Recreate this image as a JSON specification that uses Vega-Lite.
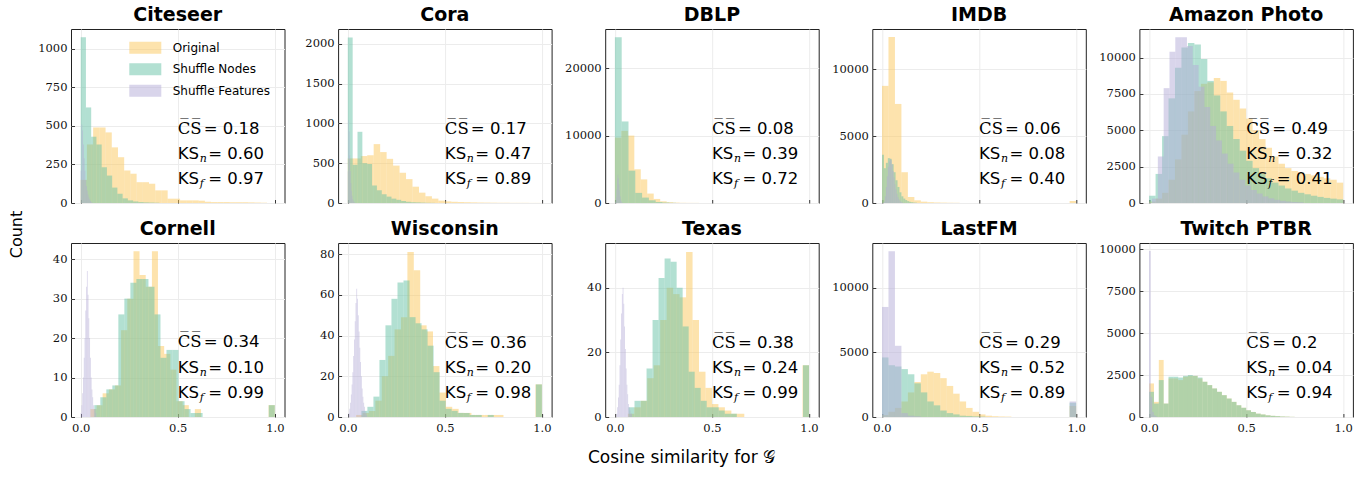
{
"$schema": "https://vega.github.io/schema/vega-lite/v6.json",
"padding": {"left": 7, "top": 5, "right": 5, "bottom": 5},
"background": "white",
"bounds": "flush",
"columns": 5,
"spacing": {"row": 40, "column": 53.1},
"datasets": {
"stats": [
{"dataset":"Citeseer","cs":"= 0.18","ksn":"= 0.60","ksf":"= 0.97"},
{"dataset":"Cora","cs":"= 0.17","ksn":"= 0.47","ksf":"= 0.89"},
{"dataset":"DBLP","cs":"= 0.08","ksn":"= 0.39","ksf":"= 0.72"},
{"dataset":"IMDB","cs":"= 0.06","ksn":"= 0.08","ksf":"= 0.40"},
{"dataset":"Amazon Photo","cs":"= 0.49","ksn":"= 0.32","ksf":"= 0.41"},
{"dataset":"Cornell","cs":"= 0.34","ksn":"= 0.10","ksf":"= 0.99"},
{"dataset":"Wisconsin","cs":"= 0.36","ksn":"= 0.20","ksf":"= 0.98"},
{"dataset":"Texas","cs":"= 0.38","ksn":"= 0.24","ksf":"= 0.99"},
{"dataset":"LastFM","cs":"= 0.29","ksn":"= 0.52","ksf":"= 0.89"},
{"dataset":"Twitch PTBR","cs":"= 0.2","ksn":"= 0.04","ksf":"= 0.94"}
],
"citeseer": [
{"series":"Original","x0":0,"x1":0.032,"count":150},
{"series":"Original","x0":0.032,"x1":0.064,"count":380},
{"series":"Original","x0":0.064,"x1":0.096,"count":490},
{"series":"Original","x0":0.096,"x1":0.128,"count":490},
{"series":"Original","x0":0.128,"x1":0.16,"count":458},
{"series":"Original","x0":0.16,"x1":0.192,"count":361},
{"series":"Original","x0":0.192,"x1":0.224,"count":297},
{"series":"Original","x0":0.224,"x1":0.256,"count":211},
{"series":"Original","x0":0.256,"x1":0.288,"count":190},
{"series":"Original","x0":0.288,"x1":0.32,"count":135},
{"series":"Original","x0":0.32,"x1":0.352,"count":135},
{"series":"Original","x0":0.352,"x1":0.384,"count":125},
{"series":"Original","x0":0.384,"x1":0.416,"count":82},
{"series":"Original","x0":0.416,"x1":0.448,"count":82},
{"series":"Original","x0":0.448,"x1":0.48,"count":28},
{"series":"Original","x0":0.48,"x1":0.512,"count":28},
{"series":"Original","x0":0.512,"x1":0.544,"count":17},
{"series":"Original","x0":0.544,"x1":0.576,"count":17},
{"series":"Original","x0":0.576,"x1":0.608,"count":17},
{"series":"Original","x0":0.608,"x1":0.64,"count":15},
{"series":"Original","x0":0.64,"x1":0.672,"count":8},
{"series":"Original","x0":0.672,"x1":0.704,"count":6},
{"series":"Original","x0":0.704,"x1":0.736,"count":6},
{"series":"Original","x0":0.736,"x1":0.768,"count":6},
{"series":"Original","x0":0.768,"x1":0.8,"count":5},
{"series":"Original","x0":0.8,"x1":0.832,"count":5},
{"series":"Original","x0":0.832,"x1":0.864,"count":5},
{"series":"Original","x0":0.864,"x1":0.896,"count":4},
{"series":"Original","x0":0.896,"x1":0.928,"count":3},
{"series":"Original","x0":0.928,"x1":0.96,"count":2},
{"series":"Shuffle Nodes","x0":0,"x1":0.027,"count":1075},
{"series":"Shuffle Nodes","x0":0.027,"x1":0.054,"count":620},
{"series":"Shuffle Nodes","x0":0.054,"x1":0.081,"count":430},
{"series":"Shuffle Nodes","x0":0.081,"x1":0.108,"count":380},
{"series":"Shuffle Nodes","x0":0.108,"x1":0.135,"count":232},
{"series":"Shuffle Nodes","x0":0.135,"x1":0.162,"count":178},
{"series":"Shuffle Nodes","x0":0.162,"x1":0.189,"count":100},
{"series":"Shuffle Nodes","x0":0.189,"x1":0.216,"count":60},
{"series":"Shuffle Nodes","x0":0.216,"x1":0.243,"count":30},
{"series":"Shuffle Nodes","x0":0.243,"x1":0.27,"count":17},
{"series":"Shuffle Nodes","x0":0.27,"x1":0.297,"count":10},
{"series":"Shuffle Nodes","x0":0.297,"x1":0.324,"count":6},
{"series":"Shuffle Nodes","x0":0.324,"x1":0.351,"count":4},
{"series":"Shuffle Nodes","x0":0.351,"x1":0.378,"count":3},
{"series":"Shuffle Nodes","x0":0.378,"x1":0.405,"count":2},
{"series":"Shuffle Features","x0":0,"x1":0.004,"count":210},
{"series":"Shuffle Features","x0":0.004,"x1":0.008,"count":510},
{"series":"Shuffle Features","x0":0.008,"x1":0.012,"count":470},
{"series":"Shuffle Features","x0":0.012,"x1":0.016,"count":380},
{"series":"Shuffle Features","x0":0.016,"x1":0.02,"count":290},
{"series":"Shuffle Features","x0":0.02,"x1":0.024,"count":210},
{"series":"Shuffle Features","x0":0.024,"x1":0.028,"count":150},
{"series":"Shuffle Features","x0":0.028,"x1":0.032,"count":110},
{"series":"Shuffle Features","x0":0.032,"x1":0.036,"count":80},
{"series":"Shuffle Features","x0":0.036,"x1":0.04,"count":55},
{"series":"Shuffle Features","x0":0.04,"x1":0.044,"count":38},
{"series":"Shuffle Features","x0":0.044,"x1":0.048,"count":25},
{"series":"Shuffle Features","x0":0.048,"x1":0.052,"count":15},
{"series":"Shuffle Features","x0":0.052,"x1":0.056,"count":8},
{"series":"Shuffle Features","x0":0.056,"x1":0.06,"count":4}
],
"cora": [
{"series":"Original","x0":0,"x1":0.0333,"count":560},
{"series":"Original","x0":0.0333,"x1":0.0667,"count":560},
{"series":"Original","x0":0.0667,"x1":0.1,"count":590},
{"series":"Original","x0":0.1,"x1":0.1333,"count":600},
{"series":"Original","x0":0.1333,"x1":0.1667,"count":740},
{"series":"Original","x0":0.1667,"x1":0.2,"count":640},
{"series":"Original","x0":0.2,"x1":0.2333,"count":555},
{"series":"Original","x0":0.2333,"x1":0.2667,"count":470},
{"series":"Original","x0":0.2667,"x1":0.3,"count":380},
{"series":"Original","x0":0.3,"x1":0.3333,"count":300},
{"series":"Original","x0":0.3333,"x1":0.3667,"count":205},
{"series":"Original","x0":0.3667,"x1":0.4,"count":130},
{"series":"Original","x0":0.4,"x1":0.4333,"count":85},
{"series":"Original","x0":0.4333,"x1":0.4667,"count":55},
{"series":"Original","x0":0.4667,"x1":0.5,"count":30},
{"series":"Original","x0":0.5,"x1":0.5333,"count":20},
{"series":"Original","x0":0.5333,"x1":0.5667,"count":15},
{"series":"Original","x0":0.5667,"x1":0.6,"count":12},
{"series":"Original","x0":0.6,"x1":0.6333,"count":10},
{"series":"Original","x0":0.6333,"x1":0.6667,"count":8},
{"series":"Original","x0":0.6667,"x1":0.7,"count":6},
{"series":"Original","x0":0.7,"x1":0.7333,"count":5},
{"series":"Original","x0":0.7333,"x1":0.7667,"count":4},
{"series":"Original","x0":0.7667,"x1":0.8,"count":3},
{"series":"Original","x0":0.8,"x1":0.8333,"count":3},
{"series":"Original","x0":0.8333,"x1":0.8667,"count":2},
{"series":"Original","x0":0.8667,"x1":0.9,"count":2},
{"series":"Original","x0":0.9,"x1":0.9333,"count":2},
{"series":"Original","x0":0.9333,"x1":0.9667,"count":1},
{"series":"Original","x0":0.9667,"x1":1,"count":1},
{"series":"Shuffle Nodes","x0":0,"x1":0.025,"count":2080},
{"series":"Shuffle Nodes","x0":0.025,"x1":0.05,"count":480},
{"series":"Shuffle Nodes","x0":0.05,"x1":0.075,"count":895},
{"series":"Shuffle Nodes","x0":0.075,"x1":0.1,"count":500},
{"series":"Shuffle Nodes","x0":0.1,"x1":0.125,"count":490},
{"series":"Shuffle Nodes","x0":0.125,"x1":0.15,"count":220},
{"series":"Shuffle Nodes","x0":0.15,"x1":0.175,"count":160},
{"series":"Shuffle Nodes","x0":0.175,"x1":0.2,"count":110},
{"series":"Shuffle Nodes","x0":0.2,"x1":0.225,"count":80},
{"series":"Shuffle Nodes","x0":0.225,"x1":0.25,"count":55},
{"series":"Shuffle Nodes","x0":0.25,"x1":0.275,"count":40},
{"series":"Shuffle Nodes","x0":0.275,"x1":0.3,"count":25},
{"series":"Shuffle Nodes","x0":0.3,"x1":0.325,"count":15},
{"series":"Shuffle Nodes","x0":0.325,"x1":0.35,"count":10},
{"series":"Shuffle Nodes","x0":0.35,"x1":0.375,"count":8},
{"series":"Shuffle Nodes","x0":0.375,"x1":0.4,"count":5},
{"series":"Shuffle Nodes","x0":0.4,"x1":0.425,"count":3},
{"series":"Shuffle Nodes","x0":0.425,"x1":0.45,"count":2},
{"series":"Shuffle Features","x0":0,"x1":0.003,"count":400},
{"series":"Shuffle Features","x0":0.003,"x1":0.006,"count":1040},
{"series":"Shuffle Features","x0":0.006,"x1":0.009,"count":900},
{"series":"Shuffle Features","x0":0.009,"x1":0.012,"count":600},
{"series":"Shuffle Features","x0":0.012,"x1":0.015,"count":400},
{"series":"Shuffle Features","x0":0.015,"x1":0.018,"count":250},
{"series":"Shuffle Features","x0":0.018,"x1":0.021,"count":150},
{"series":"Shuffle Features","x0":0.021,"x1":0.024,"count":90},
{"series":"Shuffle Features","x0":0.024,"x1":0.027,"count":50},
{"series":"Shuffle Features","x0":0.027,"x1":0.03,"count":30},
{"series":"Shuffle Features","x0":0.03,"x1":0.033,"count":15},
{"series":"Shuffle Features","x0":0.033,"x1":0.036,"count":8}
],
"dblp": [
{"series":"Original","x0":0,"x1":0.0333,"count":9700},
{"series":"Original","x0":0.0333,"x1":0.0667,"count":10700},
{"series":"Original","x0":0.0667,"x1":0.1,"count":10000},
{"series":"Original","x0":0.1,"x1":0.1333,"count":5000},
{"series":"Original","x0":0.1333,"x1":0.1667,"count":3500},
{"series":"Original","x0":0.1667,"x1":0.2,"count":1400},
{"series":"Original","x0":0.2,"x1":0.2333,"count":600},
{"series":"Original","x0":0.2333,"x1":0.2667,"count":250},
{"series":"Original","x0":0.2667,"x1":0.3,"count":120},
{"series":"Original","x0":0.3,"x1":0.3333,"count":60},
{"series":"Original","x0":0.3333,"x1":0.3667,"count":30},
{"series":"Original","x0":0.3667,"x1":0.4,"count":20},
{"series":"Original","x0":0.4,"x1":0.4333,"count":15},
{"series":"Shuffle Nodes","x0":0,"x1":0.035,"count":24600},
{"series":"Shuffle Nodes","x0":0.035,"x1":0.07,"count":12100},
{"series":"Shuffle Nodes","x0":0.07,"x1":0.105,"count":4800},
{"series":"Shuffle Nodes","x0":0.105,"x1":0.14,"count":1500},
{"series":"Shuffle Nodes","x0":0.14,"x1":0.175,"count":800},
{"series":"Shuffle Nodes","x0":0.175,"x1":0.21,"count":400},
{"series":"Shuffle Nodes","x0":0.21,"x1":0.245,"count":150},
{"series":"Shuffle Nodes","x0":0.245,"x1":0.28,"count":60},
{"series":"Shuffle Nodes","x0":0.28,"x1":0.315,"count":30},
{"series":"Shuffle Features","x0":0.002,"x1":0.005,"count":200},
{"series":"Shuffle Features","x0":0.005,"x1":0.008,"count":800},
{"series":"Shuffle Features","x0":0.008,"x1":0.011,"count":2000},
{"series":"Shuffle Features","x0":0.011,"x1":0.014,"count":3500},
{"series":"Shuffle Features","x0":0.014,"x1":0.017,"count":4200},
{"series":"Shuffle Features","x0":0.017,"x1":0.02,"count":3700},
{"series":"Shuffle Features","x0":0.02,"x1":0.023,"count":2800},
{"series":"Shuffle Features","x0":0.023,"x1":0.026,"count":1800},
{"series":"Shuffle Features","x0":0.026,"x1":0.029,"count":1000},
{"series":"Shuffle Features","x0":0.029,"x1":0.032,"count":500},
{"series":"Shuffle Features","x0":0.032,"x1":0.035,"count":250},
{"series":"Shuffle Features","x0":0.035,"x1":0.038,"count":100}
],
"imdb": [
{"series":"Original","x0":0,"x1":0.0333,"count":8750},
{"series":"Original","x0":0.0333,"x1":0.0667,"count":12400},
{"series":"Original","x0":0.0667,"x1":0.1,"count":7400},
{"series":"Original","x0":0.1,"x1":0.1333,"count":2300},
{"series":"Original","x0":0.1333,"x1":0.1667,"count":450},
{"series":"Original","x0":0.1667,"x1":0.2,"count":200},
{"series":"Original","x0":0.2,"x1":0.2333,"count":100},
{"series":"Original","x0":0.2333,"x1":0.2667,"count":60},
{"series":"Original","x0":0.2667,"x1":0.3,"count":40},
{"series":"Original","x0":0.3,"x1":0.3333,"count":30},
{"series":"Original","x0":0.3333,"x1":0.3667,"count":20},
{"series":"Original","x0":0.3667,"x1":0.4,"count":15},
{"series":"Original","x0":0.9667,"x1":1,"count":150},
{"series":"Shuffle Nodes","x0":0,"x1":0.01,"count":3600},
{"series":"Shuffle Nodes","x0":0.01,"x1":0.02,"count":2600},
{"series":"Shuffle Nodes","x0":0.02,"x1":0.03,"count":3000},
{"series":"Shuffle Nodes","x0":0.03,"x1":0.04,"count":3350},
{"series":"Shuffle Nodes","x0":0.04,"x1":0.05,"count":3300},
{"series":"Shuffle Nodes","x0":0.05,"x1":0.06,"count":2900},
{"series":"Shuffle Nodes","x0":0.06,"x1":0.07,"count":2300},
{"series":"Shuffle Nodes","x0":0.07,"x1":0.08,"count":1700},
{"series":"Shuffle Nodes","x0":0.08,"x1":0.09,"count":1200},
{"series":"Shuffle Nodes","x0":0.09,"x1":0.1,"count":800},
{"series":"Shuffle Nodes","x0":0.1,"x1":0.11,"count":500},
{"series":"Shuffle Nodes","x0":0.11,"x1":0.12,"count":330},
{"series":"Shuffle Nodes","x0":0.12,"x1":0.13,"count":220},
{"series":"Shuffle Nodes","x0":0.13,"x1":0.14,"count":140},
{"series":"Shuffle Nodes","x0":0.14,"x1":0.15,"count":90},
{"series":"Shuffle Nodes","x0":0.15,"x1":0.16,"count":60},
{"series":"Shuffle Nodes","x0":0.16,"x1":0.17,"count":40},
{"series":"Shuffle Nodes","x0":0.17,"x1":0.18,"count":25},
{"series":"Shuffle Features","x0":0.01,"x1":0.015,"count":100},
{"series":"Shuffle Features","x0":0.015,"x1":0.02,"count":500},
{"series":"Shuffle Features","x0":0.02,"x1":0.025,"count":1200},
{"series":"Shuffle Features","x0":0.025,"x1":0.03,"count":2000},
{"series":"Shuffle Features","x0":0.03,"x1":0.035,"count":2700},
{"series":"Shuffle Features","x0":0.035,"x1":0.04,"count":3100},
{"series":"Shuffle Features","x0":0.04,"x1":0.045,"count":3300},
{"series":"Shuffle Features","x0":0.045,"x1":0.05,"count":3200},
{"series":"Shuffle Features","x0":0.05,"x1":0.055,"count":2900},
{"series":"Shuffle Features","x0":0.055,"x1":0.06,"count":2400},
{"series":"Shuffle Features","x0":0.06,"x1":0.065,"count":1900},
{"series":"Shuffle Features","x0":0.065,"x1":0.07,"count":1400},
{"series":"Shuffle Features","x0":0.07,"x1":0.075,"count":1000},
{"series":"Shuffle Features","x0":0.075,"x1":0.08,"count":700},
{"series":"Shuffle Features","x0":0.08,"x1":0.085,"count":450},
{"series":"Shuffle Features","x0":0.085,"x1":0.09,"count":280},
{"series":"Shuffle Features","x0":0.09,"x1":0.095,"count":170},
{"series":"Shuffle Features","x0":0.095,"x1":0.1,"count":100},
{"series":"Shuffle Features","x0":0.1,"x1":0.105,"count":50},
{"series":"Shuffle Features","x0":0.105,"x1":0.11,"count":25}
],
"amazon": [
{"series":"Original","x0":0,"x1":0.0333,"count":100},
{"series":"Original","x0":0.0333,"x1":0.0667,"count":300},
{"series":"Original","x0":0.0667,"x1":0.1,"count":700},
{"series":"Original","x0":0.1,"x1":0.1333,"count":1600},
{"series":"Original","x0":0.1333,"x1":0.1667,"count":3000},
{"series":"Original","x0":0.1667,"x1":0.2,"count":4700},
{"series":"Original","x0":0.2,"x1":0.2333,"count":6300},
{"series":"Original","x0":0.2333,"x1":0.2667,"count":7700},
{"series":"Original","x0":0.2667,"x1":0.3,"count":8200},
{"series":"Original","x0":0.3,"x1":0.3333,"count":8300},
{"series":"Original","x0":0.3333,"x1":0.3667,"count":8600},
{"series":"Original","x0":0.3667,"x1":0.4,"count":8400},
{"series":"Original","x0":0.4,"x1":0.4333,"count":7600},
{"series":"Original","x0":0.4333,"x1":0.4667,"count":7100},
{"series":"Original","x0":0.4667,"x1":0.5,"count":6500},
{"series":"Original","x0":0.5,"x1":0.5333,"count":5800},
{"series":"Original","x0":0.5333,"x1":0.5667,"count":5000},
{"series":"Original","x0":0.5667,"x1":0.6,"count":4400},
{"series":"Original","x0":0.6,"x1":0.6333,"count":3800},
{"series":"Original","x0":0.6333,"x1":0.6667,"count":3200},
{"series":"Original","x0":0.6667,"x1":0.7,"count":2700},
{"series":"Original","x0":0.7,"x1":0.7333,"count":2400},
{"series":"Original","x0":0.7333,"x1":0.7667,"count":2200},
{"series":"Original","x0":0.7667,"x1":0.8,"count":2100},
{"series":"Original","x0":0.8,"x1":0.8333,"count":2000},
{"series":"Original","x0":0.8333,"x1":0.8667,"count":1900},
{"series":"Original","x0":0.8667,"x1":0.9,"count":1800},
{"series":"Original","x0":0.9,"x1":0.9333,"count":1700},
{"series":"Original","x0":0.9333,"x1":0.9667,"count":1600},
{"series":"Original","x0":0.9667,"x1":1,"count":1400},
{"series":"Shuffle Nodes","x0":0,"x1":0.0333,"count":500},
{"series":"Shuffle Nodes","x0":0.0333,"x1":0.0667,"count":2000},
{"series":"Shuffle Nodes","x0":0.0667,"x1":0.1,"count":4600},
{"series":"Shuffle Nodes","x0":0.1,"x1":0.1333,"count":7200},
{"series":"Shuffle Nodes","x0":0.1333,"x1":0.1667,"count":9300},
{"series":"Shuffle Nodes","x0":0.1667,"x1":0.2,"count":10700},
{"series":"Shuffle Nodes","x0":0.2,"x1":0.2333,"count":11000},
{"series":"Shuffle Nodes","x0":0.2333,"x1":0.2667,"count":10900},
{"series":"Shuffle Nodes","x0":0.2667,"x1":0.3,"count":9900},
{"series":"Shuffle Nodes","x0":0.3,"x1":0.3333,"count":8400},
{"series":"Shuffle Nodes","x0":0.3333,"x1":0.3667,"count":7400},
{"series":"Shuffle Nodes","x0":0.3667,"x1":0.4,"count":6300},
{"series":"Shuffle Nodes","x0":0.4,"x1":0.4333,"count":5300},
{"series":"Shuffle Nodes","x0":0.4333,"x1":0.4667,"count":4400},
{"series":"Shuffle Nodes","x0":0.4667,"x1":0.5,"count":3600},
{"series":"Shuffle Nodes","x0":0.5,"x1":0.5333,"count":2900},
{"series":"Shuffle Nodes","x0":0.5333,"x1":0.5667,"count":2400},
{"series":"Shuffle Nodes","x0":0.5667,"x1":0.6,"count":2000},
{"series":"Shuffle Nodes","x0":0.6,"x1":0.6333,"count":1700},
{"series":"Shuffle Nodes","x0":0.6333,"x1":0.6667,"count":1400},
{"series":"Shuffle Nodes","x0":0.6667,"x1":0.7,"count":1200},
{"series":"Shuffle Nodes","x0":0.7,"x1":0.7333,"count":1000},
{"series":"Shuffle Nodes","x0":0.7333,"x1":0.7667,"count":850},
{"series":"Shuffle Nodes","x0":0.7667,"x1":0.8,"count":700},
{"series":"Shuffle Nodes","x0":0.8,"x1":0.8333,"count":600},
{"series":"Shuffle Nodes","x0":0.8333,"x1":0.8667,"count":500},
{"series":"Shuffle Nodes","x0":0.8667,"x1":0.9,"count":420},
{"series":"Shuffle Nodes","x0":0.9,"x1":0.9333,"count":350},
{"series":"Shuffle Nodes","x0":0.9333,"x1":0.9667,"count":300},
{"series":"Shuffle Nodes","x0":0.9667,"x1":1,"count":250},
{"series":"Shuffle Features","x0":0.015,"x1":0.045,"count":300},
{"series":"Shuffle Features","x0":0.045,"x1":0.075,"count":3200},
{"series":"Shuffle Features","x0":0.075,"x1":0.105,"count":7900},
{"series":"Shuffle Features","x0":0.105,"x1":0.135,"count":10400},
{"series":"Shuffle Features","x0":0.135,"x1":0.165,"count":11400},
{"series":"Shuffle Features","x0":0.165,"x1":0.195,"count":11400},
{"series":"Shuffle Features","x0":0.195,"x1":0.225,"count":10800},
{"series":"Shuffle Features","x0":0.225,"x1":0.255,"count":9500},
{"series":"Shuffle Features","x0":0.255,"x1":0.285,"count":8000},
{"series":"Shuffle Features","x0":0.285,"x1":0.315,"count":6600},
{"series":"Shuffle Features","x0":0.315,"x1":0.345,"count":5300},
{"series":"Shuffle Features","x0":0.345,"x1":0.375,"count":4300},
{"series":"Shuffle Features","x0":0.375,"x1":0.405,"count":3400},
{"series":"Shuffle Features","x0":0.405,"x1":0.435,"count":2700},
{"series":"Shuffle Features","x0":0.435,"x1":0.465,"count":2100},
{"series":"Shuffle Features","x0":0.465,"x1":0.495,"count":1600},
{"series":"Shuffle Features","x0":0.495,"x1":0.525,"count":1200},
{"series":"Shuffle Features","x0":0.525,"x1":0.555,"count":900},
{"series":"Shuffle Features","x0":0.555,"x1":0.585,"count":650},
{"series":"Shuffle Features","x0":0.585,"x1":0.615,"count":450},
{"series":"Shuffle Features","x0":0.615,"x1":0.645,"count":320},
{"series":"Shuffle Features","x0":0.645,"x1":0.675,"count":220},
{"series":"Shuffle Features","x0":0.675,"x1":0.705,"count":150},
{"series":"Shuffle Features","x0":0.705,"x1":0.735,"count":100},
{"series":"Shuffle Features","x0":0.735,"x1":0.765,"count":70},
{"series":"Shuffle Features","x0":0.765,"x1":0.795,"count":50}
],
"cornell": [
{"series":"Original","x0":0.05,"x1":0.082,"count":2},
{"series":"Original","x0":0.082,"x1":0.113,"count":3},
{"series":"Original","x0":0.113,"x1":0.145,"count":6},
{"series":"Original","x0":0.145,"x1":0.177,"count":7},
{"series":"Original","x0":0.177,"x1":0.208,"count":8},
{"series":"Original","x0":0.208,"x1":0.24,"count":22},
{"series":"Original","x0":0.24,"x1":0.272,"count":30},
{"series":"Original","x0":0.272,"x1":0.303,"count":42},
{"series":"Original","x0":0.303,"x1":0.335,"count":36},
{"series":"Original","x0":0.335,"x1":0.367,"count":33},
{"series":"Original","x0":0.367,"x1":0.398,"count":42},
{"series":"Original","x0":0.398,"x1":0.43,"count":18},
{"series":"Original","x0":0.43,"x1":0.462,"count":16},
{"series":"Original","x0":0.462,"x1":0.493,"count":12},
{"series":"Original","x0":0.493,"x1":0.525,"count":4},
{"series":"Original","x0":0.525,"x1":0.557,"count":3},
{"series":"Original","x0":0.588,"x1":0.62,"count":2},
{"series":"Original","x0":0.968,"x1":1,"count":3},
{"series":"Shuffle Nodes","x0":0.07,"x1":0.101,"count":3},
{"series":"Shuffle Nodes","x0":0.101,"x1":0.132,"count":5},
{"series":"Shuffle Nodes","x0":0.132,"x1":0.163,"count":7},
{"series":"Shuffle Nodes","x0":0.163,"x1":0.194,"count":8},
{"series":"Shuffle Nodes","x0":0.194,"x1":0.225,"count":26},
{"series":"Shuffle Nodes","x0":0.225,"x1":0.256,"count":30},
{"series":"Shuffle Nodes","x0":0.256,"x1":0.287,"count":34},
{"series":"Shuffle Nodes","x0":0.287,"x1":0.318,"count":35},
{"series":"Shuffle Nodes","x0":0.318,"x1":0.349,"count":35},
{"series":"Shuffle Nodes","x0":0.349,"x1":0.38,"count":33},
{"series":"Shuffle Nodes","x0":0.38,"x1":0.411,"count":26},
{"series":"Shuffle Nodes","x0":0.411,"x1":0.442,"count":15},
{"series":"Shuffle Nodes","x0":0.442,"x1":0.473,"count":17},
{"series":"Shuffle Nodes","x0":0.473,"x1":0.504,"count":17},
{"series":"Shuffle Nodes","x0":0.504,"x1":0.535,"count":4},
{"series":"Shuffle Nodes","x0":0.535,"x1":0.566,"count":2},
{"series":"Shuffle Nodes","x0":0.566,"x1":0.597,"count":1},
{"series":"Shuffle Nodes","x0":0.597,"x1":0.628,"count":1},
{"series":"Shuffle Nodes","x0":0.969,"x1":1,"count":3},
{"series":"Shuffle Features","x0":0,"x1":0.004,"count":1},
{"series":"Shuffle Features","x0":0.004,"x1":0.008,"count":3},
{"series":"Shuffle Features","x0":0.008,"x1":0.012,"count":6},
{"series":"Shuffle Features","x0":0.012,"x1":0.016,"count":10},
{"series":"Shuffle Features","x0":0.016,"x1":0.02,"count":15},
{"series":"Shuffle Features","x0":0.02,"x1":0.024,"count":20},
{"series":"Shuffle Features","x0":0.024,"x1":0.028,"count":27},
{"series":"Shuffle Features","x0":0.028,"x1":0.032,"count":33},
{"series":"Shuffle Features","x0":0.032,"x1":0.036,"count":37},
{"series":"Shuffle Features","x0":0.036,"x1":0.04,"count":31},
{"series":"Shuffle Features","x0":0.04,"x1":0.044,"count":25},
{"series":"Shuffle Features","x0":0.044,"x1":0.048,"count":20},
{"series":"Shuffle Features","x0":0.048,"x1":0.052,"count":15},
{"series":"Shuffle Features","x0":0.052,"x1":0.056,"count":10},
{"series":"Shuffle Features","x0":0.056,"x1":0.06,"count":7},
{"series":"Shuffle Features","x0":0.06,"x1":0.064,"count":5},
{"series":"Shuffle Features","x0":0.064,"x1":0.068,"count":3},
{"series":"Shuffle Features","x0":0.068,"x1":0.072,"count":2},
{"series":"Shuffle Features","x0":0.072,"x1":0.076,"count":2},
{"series":"Shuffle Features","x0":0.076,"x1":0.08,"count":1}
],
"wisconsin": [
{"series":"Original","x0":0.043,"x1":0.076,"count":1},
{"series":"Original","x0":0.076,"x1":0.109,"count":2},
{"series":"Original","x0":0.109,"x1":0.142,"count":3},
{"series":"Original","x0":0.142,"x1":0.175,"count":8},
{"series":"Original","x0":0.175,"x1":0.208,"count":20},
{"series":"Original","x0":0.208,"x1":0.241,"count":30},
{"series":"Original","x0":0.241,"x1":0.274,"count":43},
{"series":"Original","x0":0.274,"x1":0.307,"count":49},
{"series":"Original","x0":0.307,"x1":0.34,"count":81},
{"series":"Original","x0":0.34,"x1":0.373,"count":72},
{"series":"Original","x0":0.373,"x1":0.406,"count":45},
{"series":"Original","x0":0.406,"x1":0.439,"count":42},
{"series":"Original","x0":0.439,"x1":0.472,"count":25},
{"series":"Original","x0":0.472,"x1":0.505,"count":12},
{"series":"Original","x0":0.505,"x1":0.538,"count":5},
{"series":"Original","x0":0.538,"x1":0.571,"count":4},
{"series":"Original","x0":0.571,"x1":0.604,"count":2},
{"series":"Original","x0":0.604,"x1":0.637,"count":2},
{"series":"Original","x0":0.637,"x1":0.67,"count":1},
{"series":"Original","x0":0.67,"x1":0.703,"count":1},
{"series":"Original","x0":0.703,"x1":0.736,"count":1},
{"series":"Original","x0":0.736,"x1":0.769,"count":1},
{"series":"Original","x0":0.769,"x1":0.802,"count":1},
{"series":"Original","x0":0.967,"x1":1,"count":16},
{"series":"Shuffle Nodes","x0":0.07,"x1":0.101,"count":3},
{"series":"Shuffle Nodes","x0":0.101,"x1":0.132,"count":5},
{"series":"Shuffle Nodes","x0":0.132,"x1":0.163,"count":10},
{"series":"Shuffle Nodes","x0":0.163,"x1":0.194,"count":28},
{"series":"Shuffle Nodes","x0":0.194,"x1":0.225,"count":45},
{"series":"Shuffle Nodes","x0":0.225,"x1":0.256,"count":58},
{"series":"Shuffle Nodes","x0":0.256,"x1":0.287,"count":66},
{"series":"Shuffle Nodes","x0":0.287,"x1":0.318,"count":67},
{"series":"Shuffle Nodes","x0":0.318,"x1":0.349,"count":49},
{"series":"Shuffle Nodes","x0":0.349,"x1":0.38,"count":46},
{"series":"Shuffle Nodes","x0":0.38,"x1":0.411,"count":43},
{"series":"Shuffle Nodes","x0":0.411,"x1":0.442,"count":35},
{"series":"Shuffle Nodes","x0":0.442,"x1":0.473,"count":22},
{"series":"Shuffle Nodes","x0":0.473,"x1":0.504,"count":8},
{"series":"Shuffle Nodes","x0":0.504,"x1":0.535,"count":4},
{"series":"Shuffle Nodes","x0":0.535,"x1":0.566,"count":3},
{"series":"Shuffle Nodes","x0":0.566,"x1":0.597,"count":2},
{"series":"Shuffle Nodes","x0":0.597,"x1":0.628,"count":2},
{"series":"Shuffle Nodes","x0":0.628,"x1":0.659,"count":1},
{"series":"Shuffle Nodes","x0":0.659,"x1":0.69,"count":1},
{"series":"Shuffle Nodes","x0":0.721,"x1":0.752,"count":1},
{"series":"Shuffle Nodes","x0":0.969,"x1":1,"count":16},
{"series":"Shuffle Features","x0":0.004,"x1":0.008,"count":2},
{"series":"Shuffle Features","x0":0.008,"x1":0.012,"count":4},
{"series":"Shuffle Features","x0":0.012,"x1":0.016,"count":7},
{"series":"Shuffle Features","x0":0.016,"x1":0.02,"count":11},
{"series":"Shuffle Features","x0":0.02,"x1":0.024,"count":16},
{"series":"Shuffle Features","x0":0.024,"x1":0.028,"count":22},
{"series":"Shuffle Features","x0":0.028,"x1":0.032,"count":30},
{"series":"Shuffle Features","x0":0.032,"x1":0.036,"count":38},
{"series":"Shuffle Features","x0":0.036,"x1":0.04,"count":47},
{"series":"Shuffle Features","x0":0.04,"x1":0.044,"count":56},
{"series":"Shuffle Features","x0":0.044,"x1":0.048,"count":63},
{"series":"Shuffle Features","x0":0.048,"x1":0.052,"count":58},
{"series":"Shuffle Features","x0":0.052,"x1":0.056,"count":50},
{"series":"Shuffle Features","x0":0.056,"x1":0.06,"count":42},
{"series":"Shuffle Features","x0":0.06,"x1":0.064,"count":34},
{"series":"Shuffle Features","x0":0.064,"x1":0.068,"count":27},
{"series":"Shuffle Features","x0":0.068,"x1":0.072,"count":20},
{"series":"Shuffle Features","x0":0.072,"x1":0.076,"count":14},
{"series":"Shuffle Features","x0":0.076,"x1":0.08,"count":10},
{"series":"Shuffle Features","x0":0.08,"x1":0.084,"count":7},
{"series":"Shuffle Features","x0":0.084,"x1":0.088,"count":5},
{"series":"Shuffle Features","x0":0.088,"x1":0.092,"count":3},
{"series":"Shuffle Features","x0":0.092,"x1":0.096,"count":2},
{"series":"Shuffle Features","x0":0.096,"x1":0.1,"count":1}
],
"texas": [
{"series":"Original","x0":0.0667,"x1":0.1,"count":1},
{"series":"Original","x0":0.1,"x1":0.1333,"count":3},
{"series":"Original","x0":0.1333,"x1":0.1667,"count":5},
{"series":"Original","x0":0.1667,"x1":0.2,"count":12},
{"series":"Original","x0":0.2,"x1":0.2333,"count":16},
{"series":"Original","x0":0.2333,"x1":0.2667,"count":30},
{"series":"Original","x0":0.2667,"x1":0.3,"count":40},
{"series":"Original","x0":0.3,"x1":0.3333,"count":38},
{"series":"Original","x0":0.3333,"x1":0.3667,"count":37},
{"series":"Original","x0":0.3667,"x1":0.4,"count":51},
{"series":"Original","x0":0.4,"x1":0.4333,"count":30},
{"series":"Original","x0":0.4333,"x1":0.4667,"count":14},
{"series":"Original","x0":0.4667,"x1":0.5,"count":9},
{"series":"Original","x0":0.5,"x1":0.5333,"count":4},
{"series":"Original","x0":0.5333,"x1":0.5667,"count":3},
{"series":"Original","x0":0.5667,"x1":0.6,"count":2},
{"series":"Original","x0":0.6,"x1":0.6333,"count":1},
{"series":"Original","x0":0.6333,"x1":0.6667,"count":1},
{"series":"Original","x0":0.9667,"x1":1,"count":16},
{"series":"Shuffle Nodes","x0":0.07,"x1":0.101,"count":3},
{"series":"Shuffle Nodes","x0":0.101,"x1":0.132,"count":5},
{"series":"Shuffle Nodes","x0":0.132,"x1":0.163,"count":5},
{"series":"Shuffle Nodes","x0":0.163,"x1":0.194,"count":15},
{"series":"Shuffle Nodes","x0":0.194,"x1":0.225,"count":30},
{"series":"Shuffle Nodes","x0":0.225,"x1":0.256,"count":43},
{"series":"Shuffle Nodes","x0":0.256,"x1":0.287,"count":49},
{"series":"Shuffle Nodes","x0":0.287,"x1":0.318,"count":48},
{"series":"Shuffle Nodes","x0":0.318,"x1":0.349,"count":40},
{"series":"Shuffle Nodes","x0":0.349,"x1":0.38,"count":28},
{"series":"Shuffle Nodes","x0":0.38,"x1":0.411,"count":14},
{"series":"Shuffle Nodes","x0":0.411,"x1":0.442,"count":9},
{"series":"Shuffle Nodes","x0":0.442,"x1":0.473,"count":5},
{"series":"Shuffle Nodes","x0":0.473,"x1":0.504,"count":3},
{"series":"Shuffle Nodes","x0":0.504,"x1":0.535,"count":3},
{"series":"Shuffle Nodes","x0":0.535,"x1":0.566,"count":2},
{"series":"Shuffle Nodes","x0":0.566,"x1":0.597,"count":1},
{"series":"Shuffle Nodes","x0":0.597,"x1":0.628,"count":1},
{"series":"Shuffle Nodes","x0":0.969,"x1":1,"count":16},
{"series":"Shuffle Features","x0":0.008,"x1":0.012,"count":1},
{"series":"Shuffle Features","x0":0.012,"x1":0.016,"count":3},
{"series":"Shuffle Features","x0":0.016,"x1":0.02,"count":6},
{"series":"Shuffle Features","x0":0.02,"x1":0.024,"count":10},
{"series":"Shuffle Features","x0":0.024,"x1":0.028,"count":16},
{"series":"Shuffle Features","x0":0.028,"x1":0.032,"count":24},
{"series":"Shuffle Features","x0":0.032,"x1":0.036,"count":32},
{"series":"Shuffle Features","x0":0.036,"x1":0.04,"count":38},
{"series":"Shuffle Features","x0":0.04,"x1":0.044,"count":40},
{"series":"Shuffle Features","x0":0.044,"x1":0.048,"count":35},
{"series":"Shuffle Features","x0":0.048,"x1":0.052,"count":28},
{"series":"Shuffle Features","x0":0.052,"x1":0.056,"count":21},
{"series":"Shuffle Features","x0":0.056,"x1":0.06,"count":15},
{"series":"Shuffle Features","x0":0.06,"x1":0.064,"count":10},
{"series":"Shuffle Features","x0":0.064,"x1":0.068,"count":7},
{"series":"Shuffle Features","x0":0.068,"x1":0.072,"count":4},
{"series":"Shuffle Features","x0":0.072,"x1":0.076,"count":3},
{"series":"Shuffle Features","x0":0.076,"x1":0.08,"count":2},
{"series":"Shuffle Features","x0":0.08,"x1":0.084,"count":1},
{"series":"Shuffle Features","x0":0.084,"x1":0.088,"count":1}
],
"lastfm": [
{"series":"Original","x0":0,"x1":0.0333,"count":150},
{"series":"Original","x0":0.0333,"x1":0.0667,"count":400},
{"series":"Original","x0":0.0667,"x1":0.1,"count":700},
{"series":"Original","x0":0.1,"x1":0.1333,"count":1200},
{"series":"Original","x0":0.1333,"x1":0.1667,"count":1900},
{"series":"Original","x0":0.1667,"x1":0.2,"count":2700},
{"series":"Original","x0":0.2,"x1":0.2333,"count":3300},
{"series":"Original","x0":0.2333,"x1":0.2667,"count":3500},
{"series":"Original","x0":0.2667,"x1":0.3,"count":3400},
{"series":"Original","x0":0.3,"x1":0.3333,"count":3000},
{"series":"Original","x0":0.3333,"x1":0.3667,"count":2400},
{"series":"Original","x0":0.3667,"x1":0.4,"count":1800},
{"series":"Original","x0":0.4,"x1":0.4333,"count":1200},
{"series":"Original","x0":0.4333,"x1":0.4667,"count":700},
{"series":"Original","x0":0.4667,"x1":0.5,"count":400},
{"series":"Original","x0":0.5,"x1":0.5333,"count":200},
{"series":"Original","x0":0.5333,"x1":0.5667,"count":100},
{"series":"Original","x0":0.5667,"x1":0.6,"count":60},
{"series":"Original","x0":0.6,"x1":0.6333,"count":40},
{"series":"Original","x0":0.6333,"x1":0.6667,"count":30},
{"series":"Original","x0":0.9667,"x1":1,"count":850},
{"series":"Shuffle Nodes","x0":0,"x1":0.0333,"count":4600},
{"series":"Shuffle Nodes","x0":0.0333,"x1":0.0667,"count":4000},
{"series":"Shuffle Nodes","x0":0.0667,"x1":0.1,"count":3900},
{"series":"Shuffle Nodes","x0":0.1,"x1":0.1333,"count":3700},
{"series":"Shuffle Nodes","x0":0.1333,"x1":0.1667,"count":3300},
{"series":"Shuffle Nodes","x0":0.1667,"x1":0.2,"count":2600},
{"series":"Shuffle Nodes","x0":0.2,"x1":0.2333,"count":1900},
{"series":"Shuffle Nodes","x0":0.2333,"x1":0.2667,"count":1200},
{"series":"Shuffle Nodes","x0":0.2667,"x1":0.3,"count":900},
{"series":"Shuffle Nodes","x0":0.3,"x1":0.3333,"count":500},
{"series":"Shuffle Nodes","x0":0.3333,"x1":0.3667,"count":300},
{"series":"Shuffle Nodes","x0":0.3667,"x1":0.4,"count":200},
{"series":"Shuffle Nodes","x0":0.4,"x1":0.4333,"count":100},
{"series":"Shuffle Nodes","x0":0.4333,"x1":0.4667,"count":80},
{"series":"Shuffle Nodes","x0":0.4667,"x1":0.5,"count":50},
{"series":"Shuffle Nodes","x0":0.5,"x1":0.5333,"count":30},
{"series":"Shuffle Nodes","x0":0.9667,"x1":1,"count":1100},
{"series":"Shuffle Features","x0":0,"x1":0.0333,"count":8500},
{"series":"Shuffle Features","x0":0.0333,"x1":0.0667,"count":12800},
{"series":"Shuffle Features","x0":0.0667,"x1":0.1,"count":5500},
{"series":"Shuffle Features","x0":0.1,"x1":0.1333,"count":300},
{"series":"Shuffle Features","x0":0.1333,"x1":0.1667,"count":100},
{"series":"Shuffle Features","x0":0.1667,"x1":0.2,"count":50},
{"series":"Shuffle Features","x0":0.9667,"x1":1,"count":1200}
],
"twitch": [
{"series":"Original","x0":0,"x1":0.025,"count":2000},
{"series":"Original","x0":0.025,"x1":0.05,"count":900},
{"series":"Original","x0":0.05,"x1":0.075,"count":3400},
{"series":"Original","x0":0.075,"x1":0.1,"count":800},
{"series":"Original","x0":0.1,"x1":0.125,"count":2300},
{"series":"Original","x0":0.125,"x1":0.15,"count":2300},
{"series":"Original","x0":0.15,"x1":0.175,"count":2200},
{"series":"Original","x0":0.175,"x1":0.2,"count":2400},
{"series":"Original","x0":0.2,"x1":0.225,"count":2450},
{"series":"Original","x0":0.225,"x1":0.25,"count":2450},
{"series":"Original","x0":0.25,"x1":0.275,"count":2300},
{"series":"Original","x0":0.275,"x1":0.3,"count":2100},
{"series":"Original","x0":0.3,"x1":0.325,"count":1900},
{"series":"Original","x0":0.325,"x1":0.35,"count":1700},
{"series":"Original","x0":0.35,"x1":0.375,"count":1500},
{"series":"Original","x0":0.375,"x1":0.4,"count":1300},
{"series":"Original","x0":0.4,"x1":0.425,"count":1100},
{"series":"Original","x0":0.425,"x1":0.45,"count":900},
{"series":"Original","x0":0.45,"x1":0.475,"count":700},
{"series":"Original","x0":0.475,"x1":0.5,"count":550},
{"series":"Original","x0":0.5,"x1":0.525,"count":400},
{"series":"Original","x0":0.525,"x1":0.55,"count":300},
{"series":"Original","x0":0.55,"x1":0.575,"count":200},
{"series":"Original","x0":0.575,"x1":0.6,"count":150},
{"series":"Original","x0":0.6,"x1":0.625,"count":100},
{"series":"Original","x0":0.625,"x1":0.65,"count":70},
{"series":"Original","x0":0.65,"x1":0.675,"count":50},
{"series":"Original","x0":0.675,"x1":0.7,"count":30},
{"series":"Original","x0":0.7,"x1":0.725,"count":20},
{"series":"Original","x0":0.725,"x1":0.75,"count":10},
{"series":"Shuffle Nodes","x0":0,"x1":0.025,"count":1500},
{"series":"Shuffle Nodes","x0":0.025,"x1":0.05,"count":800},
{"series":"Shuffle Nodes","x0":0.05,"x1":0.075,"count":2200},
{"series":"Shuffle Nodes","x0":0.075,"x1":0.1,"count":800},
{"series":"Shuffle Nodes","x0":0.1,"x1":0.125,"count":2400},
{"series":"Shuffle Nodes","x0":0.125,"x1":0.15,"count":2400},
{"series":"Shuffle Nodes","x0":0.15,"x1":0.175,"count":2350},
{"series":"Shuffle Nodes","x0":0.175,"x1":0.2,"count":2450},
{"series":"Shuffle Nodes","x0":0.2,"x1":0.225,"count":2500},
{"series":"Shuffle Nodes","x0":0.225,"x1":0.25,"count":2450},
{"series":"Shuffle Nodes","x0":0.25,"x1":0.275,"count":2350},
{"series":"Shuffle Nodes","x0":0.275,"x1":0.3,"count":2100},
{"series":"Shuffle Nodes","x0":0.3,"x1":0.325,"count":1900},
{"series":"Shuffle Nodes","x0":0.325,"x1":0.35,"count":1700},
{"series":"Shuffle Nodes","x0":0.35,"x1":0.375,"count":1500},
{"series":"Shuffle Nodes","x0":0.375,"x1":0.4,"count":1300},
{"series":"Shuffle Nodes","x0":0.4,"x1":0.425,"count":1100},
{"series":"Shuffle Nodes","x0":0.425,"x1":0.45,"count":900},
{"series":"Shuffle Nodes","x0":0.45,"x1":0.475,"count":700},
{"series":"Shuffle Nodes","x0":0.475,"x1":0.5,"count":550},
{"series":"Shuffle Nodes","x0":0.5,"x1":0.525,"count":400},
{"series":"Shuffle Nodes","x0":0.525,"x1":0.55,"count":300},
{"series":"Shuffle Nodes","x0":0.55,"x1":0.575,"count":200},
{"series":"Shuffle Nodes","x0":0.575,"x1":0.6,"count":150},
{"series":"Shuffle Nodes","x0":0.6,"x1":0.625,"count":100},
{"series":"Shuffle Nodes","x0":0.625,"x1":0.65,"count":70},
{"series":"Shuffle Nodes","x0":0.65,"x1":0.675,"count":50},
{"series":"Shuffle Nodes","x0":0.675,"x1":0.7,"count":30},
{"series":"Shuffle Nodes","x0":0.7,"x1":0.725,"count":20},
{"series":"Shuffle Nodes","x0":0.725,"x1":0.75,"count":10},
{"series":"Shuffle Features","x0":0,"x1":0.008,"count":9900},
{"series":"Shuffle Features","x0":0.008,"x1":0.016,"count":1200},
{"series":"Shuffle Features","x0":0.016,"x1":0.024,"count":300},
{"series":"Shuffle Features","x0":0.024,"x1":0.032,"count":100},
{"series":"Shuffle Features","x0":0.032,"x1":0.04,"count":50}
]
},
"concat": [
{"title":"Citeseer","width":213.5,"height":174,"layer":[
 {"data":{"name":"citeseer"},"mark":"bar","encoding":{
  "x":{"field":"x0","type":"quantitative","scale":{"domain":[-0.05,1.05],"nice":false,"zero":false},"axis":{"values":[0,0.5,1],"labels":false,"title":null}},
  "x2":{"field":"x1"},
  "y":{"field":"count","type":"quantitative","stack":null,"scale":{"domain":[0,1129],"nice":false},"axis":{"values":[0,250,500,750,1000],"format":"d","title":"Count","titleX":-55,"titleY":205,"titleAngle":-90,"titleAlign":"center","titleBaseline":"middle","titleFontSize":16}},
  "y2":{"datum":0},
  "color":{"field":"series","type":"nominal","scale":{"domain":["Original","Shuffle Nodes","Shuffle Features"],"range":["#fbc75c","#66c2a5","#b3abd8"]},"legend":{"title":null,"orient":"none","legendX":66.3,"legendY":10.7}}}},
 {"data":{"name":"stats"},"transform":[{"filter":"datum.dataset === 'Citeseer'"}],"layer":[
  {"mark":{"type":"text","style":"cs","text":"C̅S̅"},"encoding":{"x":{"datum":0.5},"y":{"datum":483}}},
  {"mark":{"type":"text","style":"valcs"},"encoding":{"x":{"datum":0.5},"y":{"datum":483},"text":{"field":"cs"}}},
  {"mark":{"type":"text","style":"lbl","text":"KS"},"encoding":{"x":{"datum":0.5},"y":{"datum":316}}},
  {"mark":{"type":"text","style":"sub","text":"n"},"encoding":{"x":{"datum":0.5},"y":{"datum":316}}},
  {"mark":{"type":"text","style":"valks"},"encoding":{"x":{"datum":0.5},"y":{"datum":316},"text":{"field":"ksn"}}},
  {"mark":{"type":"text","style":"lbl","text":"KS"},"encoding":{"x":{"datum":0.5},"y":{"datum":155}}},
  {"mark":{"type":"text","style":"sub","text":"f"},"encoding":{"x":{"datum":0.5},"y":{"datum":155}}},
  {"mark":{"type":"text","style":"valks"},"encoding":{"x":{"datum":0.5},"y":{"datum":155},"text":{"field":"ksf"}}}
 ]}
]},
{"title":"Cora","width":213.5,"height":174,"layer":[
 {"data":{"name":"cora"},"mark":"bar","encoding":{
  "x":{"field":"x0","type":"quantitative","scale":{"domain":[-0.05,1.05],"nice":false,"zero":false},"axis":{"values":[0,0.5,1],"labels":false,"title":null}},
  "x2":{"field":"x1"},
  "y":{"field":"count","type":"quantitative","stack":null,"scale":{"domain":[0,2187],"nice":false},"axis":{"values":[0,500,1000,1500,2000],"format":"d","title":null}},
  "y2":{"datum":0},
  "color":{"field":"series","type":"nominal","scale":{"domain":["Original","Shuffle Nodes","Shuffle Features"],"range":["#fbc75c","#66c2a5","#b3abd8"]},"legend":{"title":null,"orient":"none","legendX":66.3,"legendY":10.7}}}},
 {"data":{"name":"stats"},"transform":[{"filter":"datum.dataset === 'Cora'"}],"layer":[
  {"mark":{"type":"text","style":"cs","text":"C̅S̅"},"encoding":{"x":{"datum":0.5},"y":{"datum":936}}},
  {"mark":{"type":"text","style":"valcs"},"encoding":{"x":{"datum":0.5},"y":{"datum":936},"text":{"field":"cs"}}},
  {"mark":{"type":"text","style":"lbl","text":"KS"},"encoding":{"x":{"datum":0.5},"y":{"datum":612}}},
  {"mark":{"type":"text","style":"sub","text":"n"},"encoding":{"x":{"datum":0.5},"y":{"datum":612}}},
  {"mark":{"type":"text","style":"valks"},"encoding":{"x":{"datum":0.5},"y":{"datum":612},"text":{"field":"ksn"}}},
  {"mark":{"type":"text","style":"lbl","text":"KS"},"encoding":{"x":{"datum":0.5},"y":{"datum":300}}},
  {"mark":{"type":"text","style":"sub","text":"f"},"encoding":{"x":{"datum":0.5},"y":{"datum":300}}},
  {"mark":{"type":"text","style":"valks"},"encoding":{"x":{"datum":0.5},"y":{"datum":300},"text":{"field":"ksf"}}}
 ]}
]},
{"title":"DBLP","width":213.5,"height":174,"layer":[
 {"data":{"name":"dblp"},"mark":"bar","encoding":{
  "x":{"field":"x0","type":"quantitative","scale":{"domain":[-0.05,1.05],"nice":false,"zero":false},"axis":{"values":[0,0.5,1],"labels":false,"title":null}},
  "x2":{"field":"x1"},
  "y":{"field":"count","type":"quantitative","stack":null,"scale":{"domain":[0,25820],"nice":false},"axis":{"values":[0,10000,20000],"format":"d","title":null}},
  "y2":{"datum":0},
  "color":{"field":"series","type":"nominal","scale":{"domain":["Original","Shuffle Nodes","Shuffle Features"],"range":["#fbc75c","#66c2a5","#b3abd8"]},"legend":{"title":null,"orient":"none","legendX":66.3,"legendY":10.7}}}},
 {"data":{"name":"stats"},"transform":[{"filter":"datum.dataset === 'DBLP'"}],"layer":[
  {"mark":{"type":"text","style":"cs","text":"C̅S̅"},"encoding":{"x":{"datum":0.5},"y":{"datum":11050}}},
  {"mark":{"type":"text","style":"valcs"},"encoding":{"x":{"datum":0.5},"y":{"datum":11050},"text":{"field":"cs"}}},
  {"mark":{"type":"text","style":"lbl","text":"KS"},"encoding":{"x":{"datum":0.5},"y":{"datum":7230}}},
  {"mark":{"type":"text","style":"sub","text":"n"},"encoding":{"x":{"datum":0.5},"y":{"datum":7230}}},
  {"mark":{"type":"text","style":"valks"},"encoding":{"x":{"datum":0.5},"y":{"datum":7230},"text":{"field":"ksn"}}},
  {"mark":{"type":"text","style":"lbl","text":"KS"},"encoding":{"x":{"datum":0.5},"y":{"datum":3537}}},
  {"mark":{"type":"text","style":"sub","text":"f"},"encoding":{"x":{"datum":0.5},"y":{"datum":3537}}},
  {"mark":{"type":"text","style":"valks"},"encoding":{"x":{"datum":0.5},"y":{"datum":3537},"text":{"field":"ksf"}}}
 ]}
]},
{"title":"IMDB","width":213.5,"height":174,"layer":[
 {"data":{"name":"imdb"},"mark":"bar","encoding":{
  "x":{"field":"x0","type":"quantitative","scale":{"domain":[-0.05,1.05],"nice":false,"zero":false},"axis":{"values":[0,0.5,1],"labels":false,"title":null}},
  "x2":{"field":"x1"},
  "y":{"field":"count","type":"quantitative","stack":null,"scale":{"domain":[0,13000],"nice":false},"axis":{"values":[0,5000,10000],"format":"d","title":null}},
  "y2":{"datum":0},
  "color":{"field":"series","type":"nominal","scale":{"domain":["Original","Shuffle Nodes","Shuffle Features"],"range":["#fbc75c","#66c2a5","#b3abd8"]},"legend":{"title":null,"orient":"none","legendX":66.3,"legendY":10.7}}}},
 {"data":{"name":"stats"},"transform":[{"filter":"datum.dataset === 'IMDB'"}],"layer":[
  {"mark":{"type":"text","style":"cs","text":"C̅S̅"},"encoding":{"x":{"datum":0.5},"y":{"datum":5564}}},
  {"mark":{"type":"text","style":"valcs"},"encoding":{"x":{"datum":0.5},"y":{"datum":5564},"text":{"field":"cs"}}},
  {"mark":{"type":"text","style":"lbl","text":"KS"},"encoding":{"x":{"datum":0.5},"y":{"datum":3640}}},
  {"mark":{"type":"text","style":"sub","text":"n"},"encoding":{"x":{"datum":0.5},"y":{"datum":3640}}},
  {"mark":{"type":"text","style":"valks"},"encoding":{"x":{"datum":0.5},"y":{"datum":3640},"text":{"field":"ksn"}}},
  {"mark":{"type":"text","style":"lbl","text":"KS"},"encoding":{"x":{"datum":0.5},"y":{"datum":1781}}},
  {"mark":{"type":"text","style":"sub","text":"f"},"encoding":{"x":{"datum":0.5},"y":{"datum":1781}}},
  {"mark":{"type":"text","style":"valks"},"encoding":{"x":{"datum":0.5},"y":{"datum":1781},"text":{"field":"ksf"}}}
 ]}
]},
{"title":"Amazon Photo","width":213.5,"height":174,"layer":[
 {"data":{"name":"amazon"},"mark":"bar","encoding":{
  "x":{"field":"x0","type":"quantitative","scale":{"domain":[-0.05,1.05],"nice":false,"zero":false},"axis":{"values":[0,0.5,1],"labels":false,"title":null}},
  "x2":{"field":"x1"},
  "y":{"field":"count","type":"quantitative","stack":null,"scale":{"domain":[0,11970],"nice":false},"axis":{"values":[0,2500,5000,7500,10000],"format":"d","title":null}},
  "y2":{"datum":0},
  "color":{"field":"series","type":"nominal","scale":{"domain":["Original","Shuffle Nodes","Shuffle Features"],"range":["#fbc75c","#66c2a5","#b3abd8"]},"legend":{"title":null,"orient":"none","legendX":66.3,"legendY":10.7}}}},
 {"data":{"name":"stats"},"transform":[{"filter":"datum.dataset === 'Amazon Photo'"}],"layer":[
  {"mark":{"type":"text","style":"cs","text":"C̅S̅"},"encoding":{"x":{"datum":0.5},"y":{"datum":5123}}},
  {"mark":{"type":"text","style":"valcs"},"encoding":{"x":{"datum":0.5},"y":{"datum":5123},"text":{"field":"cs"}}},
  {"mark":{"type":"text","style":"lbl","text":"KS"},"encoding":{"x":{"datum":0.5},"y":{"datum":3352}}},
  {"mark":{"type":"text","style":"sub","text":"n"},"encoding":{"x":{"datum":0.5},"y":{"datum":3352}}},
  {"mark":{"type":"text","style":"valks"},"encoding":{"x":{"datum":0.5},"y":{"datum":3352},"text":{"field":"ksn"}}},
  {"mark":{"type":"text","style":"lbl","text":"KS"},"encoding":{"x":{"datum":0.5},"y":{"datum":1640}}},
  {"mark":{"type":"text","style":"sub","text":"f"},"encoding":{"x":{"datum":0.5},"y":{"datum":1640}}},
  {"mark":{"type":"text","style":"valks"},"encoding":{"x":{"datum":0.5},"y":{"datum":1640},"text":{"field":"ksf"}}}
 ]}
]},
{"title":"Cornell","width":213.5,"height":174,"layer":[
 {"data":{"name":"cornell"},"mark":"bar","encoding":{
  "x":{"field":"x0","type":"quantitative","scale":{"domain":[-0.05,1.05],"nice":false,"zero":false},"axis":{"values":[0,0.5,1],"format":".1f","title":null}},
  "x2":{"field":"x1"},
  "y":{"field":"count","type":"quantitative","stack":null,"scale":{"domain":[0,44.1],"nice":false},"axis":{"values":[0,10,20,30,40],"format":"d","title":null}},
  "y2":{"datum":0},
  "color":{"field":"series","type":"nominal","scale":{"domain":["Original","Shuffle Nodes","Shuffle Features"],"range":["#fbc75c","#66c2a5","#b3abd8"]},"legend":{"title":null,"orient":"none","legendX":66.3,"legendY":10.7}}}},
 {"data":{"name":"stats"},"transform":[{"filter":"datum.dataset === 'Cornell'"}],"layer":[
  {"mark":{"type":"text","style":"cs","text":"C̅S̅"},"encoding":{"x":{"datum":0.5},"y":{"datum":18.9}}},
  {"mark":{"type":"text","style":"valcs"},"encoding":{"x":{"datum":0.5},"y":{"datum":18.9},"text":{"field":"cs"}}},
  {"mark":{"type":"text","style":"lbl","text":"KS"},"encoding":{"x":{"datum":0.5},"y":{"datum":12.35}}},
  {"mark":{"type":"text","style":"sub","text":"n"},"encoding":{"x":{"datum":0.5},"y":{"datum":12.35}}},
  {"mark":{"type":"text","style":"valks"},"encoding":{"x":{"datum":0.5},"y":{"datum":12.35},"text":{"field":"ksn"}}},
  {"mark":{"type":"text","style":"lbl","text":"KS"},"encoding":{"x":{"datum":0.5},"y":{"datum":6.04}}},
  {"mark":{"type":"text","style":"sub","text":"f"},"encoding":{"x":{"datum":0.5},"y":{"datum":6.04}}},
  {"mark":{"type":"text","style":"valks"},"encoding":{"x":{"datum":0.5},"y":{"datum":6.04},"text":{"field":"ksf"}}}
 ]}
]},
{"title":"Wisconsin","width":213.5,"height":174,"layer":[
 {"data":{"name":"wisconsin"},"mark":"bar","encoding":{
  "x":{"field":"x0","type":"quantitative","scale":{"domain":[-0.05,1.05],"nice":false,"zero":false},"axis":{"values":[0,0.5,1],"format":".1f","title":null}},
  "x2":{"field":"x1"},
  "y":{"field":"count","type":"quantitative","stack":null,"scale":{"domain":[0,85.4],"nice":false},"axis":{"values":[0,20,40,60,80],"format":"d","title":null}},
  "y2":{"datum":0},
  "color":{"field":"series","type":"nominal","scale":{"domain":["Original","Shuffle Nodes","Shuffle Features"],"range":["#fbc75c","#66c2a5","#b3abd8"]},"legend":{"title":null,"orient":"none","legendX":66.3,"legendY":10.7}}}},
 {"data":{"name":"stats"},"transform":[{"filter":"datum.dataset === 'Wisconsin'"}],"layer":[
  {"mark":{"type":"text","style":"cs","text":"C̅S̅"},"encoding":{"x":{"datum":0.5},"y":{"datum":36.55}}},
  {"mark":{"type":"text","style":"valcs"},"encoding":{"x":{"datum":0.5},"y":{"datum":36.55},"text":{"field":"cs"}}},
  {"mark":{"type":"text","style":"lbl","text":"KS"},"encoding":{"x":{"datum":0.5},"y":{"datum":23.9}}},
  {"mark":{"type":"text","style":"sub","text":"n"},"encoding":{"x":{"datum":0.5},"y":{"datum":23.9}}},
  {"mark":{"type":"text","style":"valks"},"encoding":{"x":{"datum":0.5},"y":{"datum":23.9},"text":{"field":"ksn"}}},
  {"mark":{"type":"text","style":"lbl","text":"KS"},"encoding":{"x":{"datum":0.5},"y":{"datum":11.7}}},
  {"mark":{"type":"text","style":"sub","text":"f"},"encoding":{"x":{"datum":0.5},"y":{"datum":11.7}}},
  {"mark":{"type":"text","style":"valks"},"encoding":{"x":{"datum":0.5},"y":{"datum":11.7},"text":{"field":"ksf"}}}
 ]}
]},
{"title":"Texas","width":213.5,"height":174,"layer":[
 {"data":{"name":"texas"},"mark":"bar","encoding":{
  "x":{"field":"x0","type":"quantitative","scale":{"domain":[-0.05,1.05],"nice":false,"zero":false},"axis":{"values":[0,0.5,1],"format":".1f","title":"Cosine similarity for 𝒢","titleX":75.8,"titleY":40,"titleAlign":"center","titleBaseline":"middle","titleFontSize":17}},
  "x2":{"field":"x1"},
  "y":{"field":"count","type":"quantitative","stack":null,"scale":{"domain":[0,53.8],"nice":false},"axis":{"values":[0,20,40],"format":"d","title":null}},
  "y2":{"datum":0},
  "color":{"field":"series","type":"nominal","scale":{"domain":["Original","Shuffle Nodes","Shuffle Features"],"range":["#fbc75c","#66c2a5","#b3abd8"]},"legend":{"title":null,"orient":"none","legendX":66.3,"legendY":10.7}}}},
 {"data":{"name":"stats"},"transform":[{"filter":"datum.dataset === 'Texas'"}],"layer":[
  {"mark":{"type":"text","style":"cs","text":"C̅S̅"},"encoding":{"x":{"datum":0.5},"y":{"datum":23.0}}},
  {"mark":{"type":"text","style":"valcs"},"encoding":{"x":{"datum":0.5},"y":{"datum":23.0},"text":{"field":"cs"}}},
  {"mark":{"type":"text","style":"lbl","text":"KS"},"encoding":{"x":{"datum":0.5},"y":{"datum":15.06}}},
  {"mark":{"type":"text","style":"sub","text":"n"},"encoding":{"x":{"datum":0.5},"y":{"datum":15.06}}},
  {"mark":{"type":"text","style":"valks"},"encoding":{"x":{"datum":0.5},"y":{"datum":15.06},"text":{"field":"ksn"}}},
  {"mark":{"type":"text","style":"lbl","text":"KS"},"encoding":{"x":{"datum":0.5},"y":{"datum":7.37}}},
  {"mark":{"type":"text","style":"sub","text":"f"},"encoding":{"x":{"datum":0.5},"y":{"datum":7.37}}},
  {"mark":{"type":"text","style":"valks"},"encoding":{"x":{"datum":0.5},"y":{"datum":7.37},"text":{"field":"ksf"}}}
 ]}
]},
{"title":"LastFM","width":213.5,"height":174,"layer":[
 {"data":{"name":"lastfm"},"mark":"bar","encoding":{
  "x":{"field":"x0","type":"quantitative","scale":{"domain":[-0.05,1.05],"nice":false,"zero":false},"axis":{"values":[0,0.5,1],"format":".1f","title":null}},
  "x2":{"field":"x1"},
  "y":{"field":"count","type":"quantitative","stack":null,"scale":{"domain":[0,13440],"nice":false},"axis":{"values":[0,5000,10000],"format":"d","title":null}},
  "y2":{"datum":0},
  "color":{"field":"series","type":"nominal","scale":{"domain":["Original","Shuffle Nodes","Shuffle Features"],"range":["#fbc75c","#66c2a5","#b3abd8"]},"legend":{"title":null,"orient":"none","legendX":66.3,"legendY":10.7}}}},
 {"data":{"name":"stats"},"transform":[{"filter":"datum.dataset === 'LastFM'"}],"layer":[
  {"mark":{"type":"text","style":"cs","text":"C̅S̅"},"encoding":{"x":{"datum":0.5},"y":{"datum":5752}}},
  {"mark":{"type":"text","style":"valcs"},"encoding":{"x":{"datum":0.5},"y":{"datum":5752},"text":{"field":"cs"}}},
  {"mark":{"type":"text","style":"lbl","text":"KS"},"encoding":{"x":{"datum":0.5},"y":{"datum":3763}}},
  {"mark":{"type":"text","style":"sub","text":"n"},"encoding":{"x":{"datum":0.5},"y":{"datum":3763}}},
  {"mark":{"type":"text","style":"valks"},"encoding":{"x":{"datum":0.5},"y":{"datum":3763},"text":{"field":"ksn"}}},
  {"mark":{"type":"text","style":"lbl","text":"KS"},"encoding":{"x":{"datum":0.5},"y":{"datum":1841}}},
  {"mark":{"type":"text","style":"sub","text":"f"},"encoding":{"x":{"datum":0.5},"y":{"datum":1841}}},
  {"mark":{"type":"text","style":"valks"},"encoding":{"x":{"datum":0.5},"y":{"datum":1841},"text":{"field":"ksf"}}}
 ]}
]},
{"title":"Twitch PTBR","width":213.5,"height":174,"layer":[
 {"data":{"name":"twitch"},"mark":"bar","encoding":{
  "x":{"field":"x0","type":"quantitative","scale":{"domain":[-0.05,1.05],"nice":false,"zero":false},"axis":{"values":[0,0.5,1],"format":".1f","title":null}},
  "x2":{"field":"x1"},
  "y":{"field":"count","type":"quantitative","stack":null,"scale":{"domain":[0,10370],"nice":false},"axis":{"values":[0,2500,5000,7500,10000],"format":"d","title":null}},
  "y2":{"datum":0},
  "color":{"field":"series","type":"nominal","scale":{"domain":["Original","Shuffle Nodes","Shuffle Features"],"range":["#fbc75c","#66c2a5","#b3abd8"]},"legend":{"title":null,"orient":"none","legendX":66.3,"legendY":10.7}}}},
 {"data":{"name":"stats"},"transform":[{"filter":"datum.dataset === 'Twitch PTBR'"}],"layer":[
  {"mark":{"type":"text","style":"cs","text":"C̅S̅"},"encoding":{"x":{"datum":0.5},"y":{"datum":4438}}},
  {"mark":{"type":"text","style":"valcs"},"encoding":{"x":{"datum":0.5},"y":{"datum":4438},"text":{"field":"cs"}}},
  {"mark":{"type":"text","style":"lbl","text":"KS"},"encoding":{"x":{"datum":0.5},"y":{"datum":2904}}},
  {"mark":{"type":"text","style":"sub","text":"n"},"encoding":{"x":{"datum":0.5},"y":{"datum":2904}}},
  {"mark":{"type":"text","style":"valks"},"encoding":{"x":{"datum":0.5},"y":{"datum":2904},"text":{"field":"ksn"}}},
  {"mark":{"type":"text","style":"lbl","text":"KS"},"encoding":{"x":{"datum":0.5},"y":{"datum":1421}}},
  {"mark":{"type":"text","style":"sub","text":"f"},"encoding":{"x":{"datum":0.5},"y":{"datum":1421}}},
  {"mark":{"type":"text","style":"valks"},"encoding":{"x":{"datum":0.5},"y":{"datum":1421},"text":{"field":"ksf"}}}
 ]}
]}
],
"config": {
 "font": "DejaVu Sans",
 "view": {"stroke": "#222222", "strokeWidth": 1},
 "bar": {"opacity": 0.5},
 "axis": {"grid": true, "gridColor": "#ececec", "gridWidth": 1, "domain": false, "ticks": true, "tickSize": -3.5, "tickColor": "#222222", "tickWidth": 0.9, "labelFont": "DejaVu Serif", "labelFontSize": 11.5, "labelColor": "#111111", "labelFlush": false, "titleFont": "DejaVu Sans", "titleFontWeight": "normal", "titleColor": "#000000"},
 "axisX": {"labelPadding": 9},
 "axisY": {"labelPadding": 7.5},
 "title": {"font": "DejaVu Sans", "fontSize": 19, "fontWeight": "bold", "offset": 4, "color": "#000000", "anchor": "middle"},
 "legend": {"symbolType": "M-2,-0.75H2V0.75H-2Z", "symbolSize": 256, "symbolOpacity": 0.5, "symbolStrokeWidth": 0, "labelFont": "DejaVu Sans", "labelFontSize": 12, "labelColor": "#000000", "labelOffset": 19.4, "rowPadding": 7.5, "padding": 0},
 "style": {
  "cs": {"font": "DejaVu Serif", "fontSize": 16.5, "align": "left", "baseline": "middle", "color": "#000000"},
  "lbl": {"font": "DejaVu Sans", "fontSize": 16.5, "align": "left", "baseline": "middle", "color": "#000000"},
  "sub": {"font": "DejaVu Serif", "fontSize": 11, "fontStyle": "italic", "align": "left", "baseline": "middle", "dx": 22, "dy": 5, "color": "#000000"},
  "valcs": {"font": "DejaVu Sans", "fontSize": 16.5, "align": "left", "baseline": "middle", "dx": 26, "color": "#000000"},
  "valks": {"font": "DejaVu Sans", "fontSize": 16.5, "align": "left", "baseline": "middle", "dx": 30.5, "color": "#000000"}
 }
}
}
